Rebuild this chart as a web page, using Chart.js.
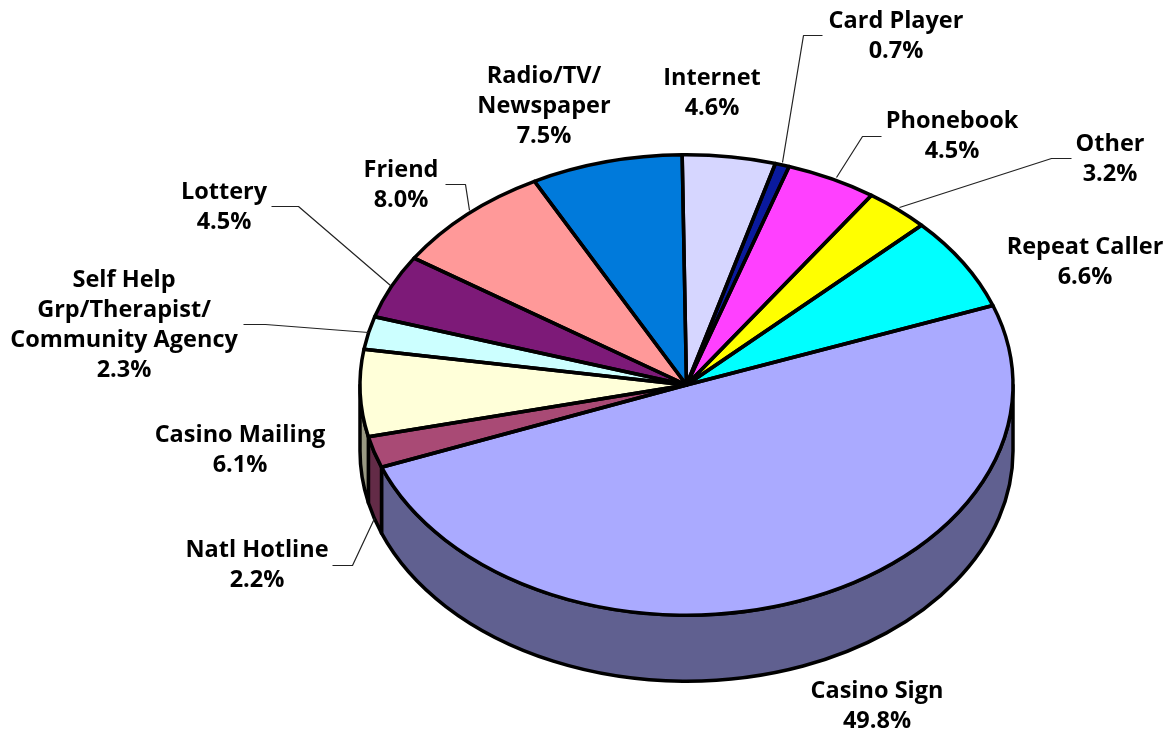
<!DOCTYPE html>
<html>
<head>
<meta charset="utf-8">
<style>html,body{margin:0;padding:0;background:#fff}canvas{display:block}</style>
<script src="https://cdn.jsdelivr.net/npm/chart.js@4"></script>
</head>
<body>
<canvas id="c" width="1172" height="735"></canvas>
<script>
const categories = ["Casino Sign","Natl Hotline","Casino Mailing","Self Help Grp/Therapist/ Community Agency","Lottery","Friend","Radio/TV/ Newspaper","Internet","Card Player","Phonebook","Other","Repeat Caller"];
const shares = [49.8,2.2,6.1,2.3,4.5,8.0,7.5,4.6,0.7,4.5,3.2,6.6];
const topColors = ["#AAAAFF","#A94A75","#FFFFD9","#CCFFFF","#7D1A78","#FF9999","#007ADB","#D6D6FF","#0A1A9E","#FF40FF","#FFFF00","#00FFFF"];
const sideColors = ["#606090","#632B47","#999982","#7A9999","#4B1048","#995C5C","#004983","#808099","#060F5F","#992699","#999900","#009999"];
const labelLines = [["Casino Sign"],["Natl Hotline"],["Casino Mailing"],["Self Help","Grp/Therapist/","Community Agency"],["Lottery"],["Friend"],["Radio/TV/","Newspaper"],["Internet"],["Card Player"],["Phonebook"],["Other"],["Repeat Caller"]];
const labelCenters = [[877,691],[257,550],[240,435],[124,280],[224,192],[401,170],[544,76],[712,78],[896,21],[952,121],[1110,144],[1085,247]];
const leaders = [null,[[332,565],[352,565],[374,518]],null,[[243,324],[265,324],[368,332]],[[271,206],[298,206],[390,285]],[[445,184],[465,184],[469,210]],null,null,[[822,35],[803,35],[782,162]],[[881,136],[862,136],[836,177]],[[1071,158],[1051,158],[899,207]],null];
const SQUASH = 0.705, DEPTH = 66, LINE = 3.5;
const FONT = "700 23.5px 'Open Sans',sans-serif";

const pie3d = {
  id:'pie3d',
  beforeDatasetsDraw(chart){
    const ctx = chart.ctx, arcs = chart.getDatasetMeta(0).data;
    const cx = arcs[0].x, cy = arcs[0].y, r = arcs[0].outerRadius, ry = r*SQUASH;
    ctx.save();
    ctx.lineWidth = LINE; ctx.strokeStyle = '#000'; ctx.lineJoin='round';
    arcs.forEach((a,i)=>{
      for(const k of [-1,0,1]){
        const s = Math.max(a.startAngle+k*2*Math.PI,0), e = Math.min(a.endAngle+k*2*Math.PI,Math.PI);
        if(e<=s) continue;
        ctx.beginPath();
        ctx.ellipse(cx,cy,r,ry,0,s,e);
        ctx.ellipse(cx,cy+DEPTH,r,ry,0,e,s,true);
        ctx.closePath();
        ctx.fillStyle = sideColors[i];
        ctx.fill(); ctx.stroke();
      }
    });
    ctx.restore();
    ctx.save();
    ctx.translate(cx,cy); ctx.scale(1,SQUASH); ctx.translate(-cx,-cy);
  },
  afterDatasetsDraw(chart){
    const ctx = chart.ctx, arcs = chart.getDatasetMeta(0).data;
    ctx.restore();
    const cx = arcs[0].x, cy = arcs[0].y, r = arcs[0].outerRadius, ry = r*SQUASH;
    ctx.save();
    ctx.lineWidth = LINE; ctx.strokeStyle = '#000'; ctx.lineJoin='round';
    arcs.forEach(a=>{
      ctx.beginPath();
      ctx.moveTo(cx,cy);
      ctx.ellipse(cx,cy,r,ry,0,a.startAngle,a.endAngle);
      ctx.closePath();
      ctx.stroke();
    });
    ctx.lineWidth = 1.2; ctx.strokeStyle='#222';
    leaders.forEach(l=>{
      if(!l) return;
      ctx.beginPath();
      l.forEach((p,j)=> j?ctx.lineTo(p[0]+.5,p[1]+.5):ctx.moveTo(p[0]+.5,p[1]+.5));
      ctx.stroke();
    });
    ctx.fillStyle='#000'; ctx.font=FONT; ctx.textAlign='center'; ctx.textBaseline='middle';
    categories.forEach((_,i)=>{
      const lines = labelLines[i].concat(shares[i].toFixed(1)+'%');
      lines.forEach((t,j)=> ctx.fillText(t,labelCenters[i][0],labelCenters[i][1]+j*30));
    });
    ctx.restore();
  }
};

new Chart(document.getElementById('c'),{
  type:'pie',
  data:{labels:categories,datasets:[{data:shares,backgroundColor:topColors,borderWidth:0}]},
  options:{
    responsive:false,animation:false,rotation:69.8,radius:326.5,
    layout:{padding:{left:360,right:159,top:58.5,bottom:23.5}},
    plugins:{legend:{display:false},tooltip:{enabled:false}}
  },
  plugins:[pie3d]
});
</script>
</body>
</html>
